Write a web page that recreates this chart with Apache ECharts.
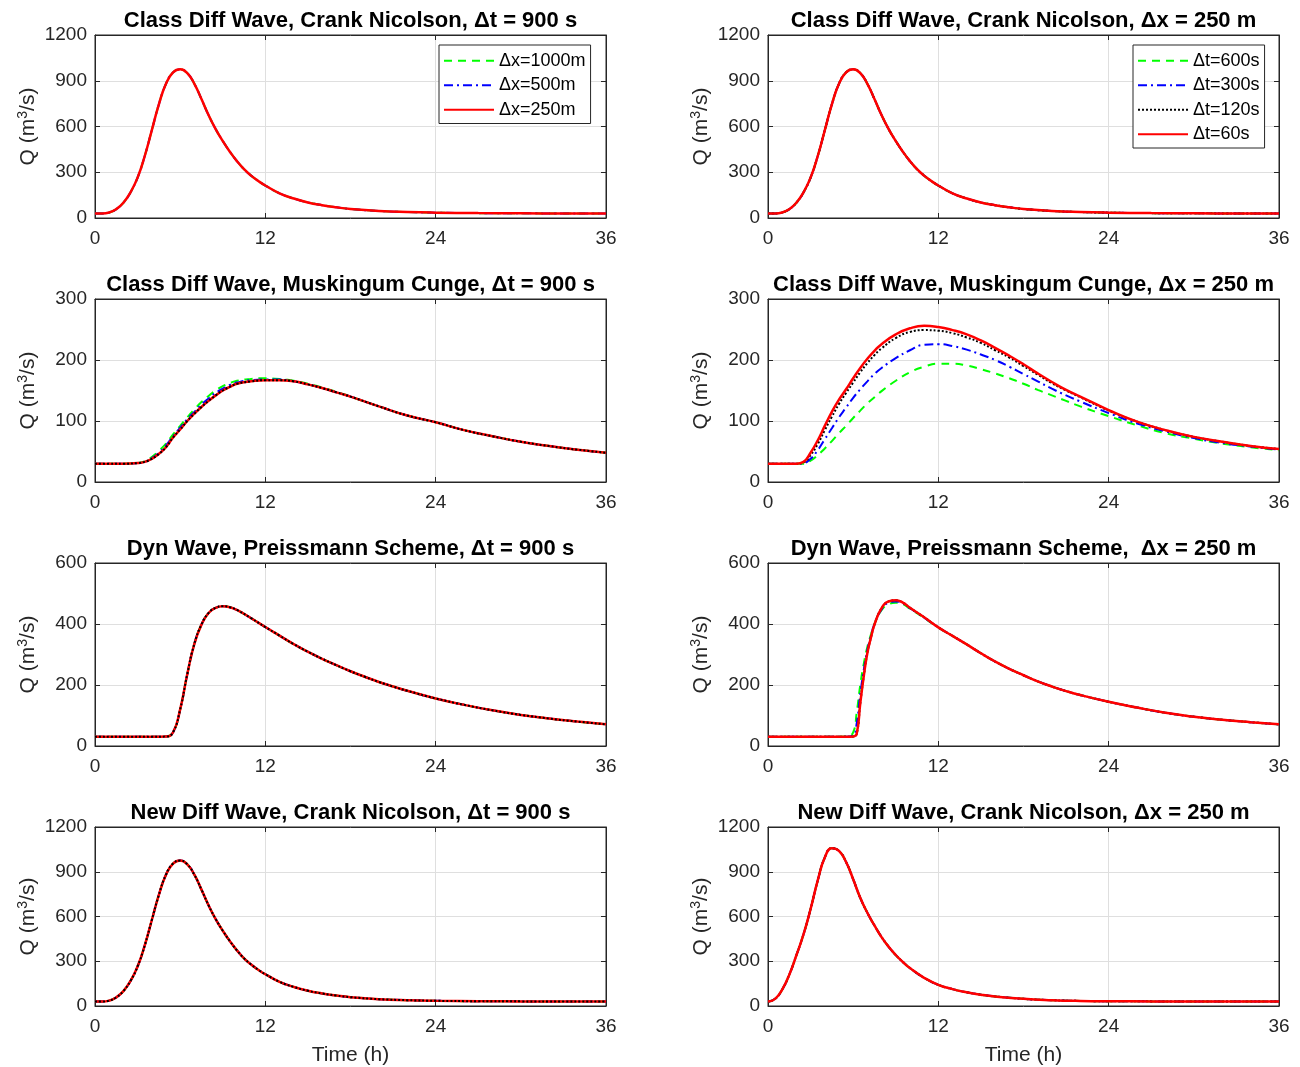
<!DOCTYPE html>
<html><head><meta charset="utf-8">
<script src="https://cdn.jsdelivr.net/npm/echarts@6/dist/echarts.min.js"></script>
<style>html,body{margin:0;padding:0;background:#fff}#c{width:1300px;height:1067px}</style>
</head><body><div id="c"></div><script>
// ---- data (time in hours, Q in m3/s) ----
// Row 1: Class Diff Wave, Crank Nicolson
const tCN = [0,0.5,1,1.5,2,2.5,3,3.5,4,4.5,5,5.5,6,6.5,7,7.5,8,8.5,9,9.5,10,10.5,11,11.5,12,13,14,15,16,17,18,20,22,24,27,30,33,36];
const qCN = [30,30,36,58,100,168,265,405,575,745,880,955,975,950,880,780,675,583,505,435,373,320,278,243,213,162,128,102,84,70,59,46,39,35,32,31,30,30];

// Row 2 left: Class Diff Wave, Muskingum Cunge, dt = 900 s
const tMC = [0,1,2,3,3.5,4,4.5,5,5.5,6,6.5,7,7.5,8,8.5,9,9.5,10,11,12,13,14,15,16,17,18,20,22,24,26,28,30,32,34,36];
const qMC_dx1000 = [30,30,30,31,34,41,51,63,78,92,106,119,131,141,150,157,162,166,169,170,169,166,161,155,148,140,124,109,98,85,75,66,59,53,48];
const qMC_dx500  = [30,30,30,31,33,39,48,60,75,89,103,115,127,137,146,153,159,163,167,168,168,165,160,154,147,140,124,109,98,85,75,66,59,53,48];
const qMC_dx250  = [30,30,30,31,33,38,46,57,73,86,100,112,123,133,142,150,156,161,165,167,167,165,160,154,147,140,124,109,98,85,75,66,59,53,48];

// Row 2 right: Class Diff Wave, Muskingum Cunge, dx = 250 m
const tMC2 = [0,1,2,2.5,3,3.5,4,4.5,5,5.5,6,6.5,7,7.5,8,9,10,11,12,13,14,15,16,17,18,19,20,21,22,24,26,28,30,32,34,36];
const qMC_dt600 = [30,30,30,30,35,44,55,67,80,92,105,117,129,139,149,166,180,189,194,194,191,185,178,170,161,151,142,133,124,108,93,80,71,63,57,52];
const qMC_dt300 = [30,30,30,31,38,52,70,88,106,122,138,152,165,177,187,203,216,225,226,223,217,209,200,189,177,165,153,142,132,113,96,83,72,64,58,53];
const qMC_dt120 = [30,30,30,32,44,62,85,107,128,146,163,180,195,208,219,236,246,249,248,244,237,228,216,204,190,176,162,150,139,117,99,85,74,66,59,54];
const qMC_dt60  = [30,30,30,33,48,68,92,115,135,152,170,187,202,215,226,242,252,256,254,249,242,232,220,207,193,178,164,151,140,118,99,85,74,66,59,54];

// Row 3 left: Dyn Wave, Preissmann, dt = 900 s
const tDW = [0,2,4,5,5.5,6,6.5,7,7.5,8,8.5,9,9.5,10,11,12,13,14,15,16,17,18,19,20,21,22,24,26,28,30,32,34,36];
const qDW = [30,30,30,31,45,120,235,335,398,436,453,458,455,446,419,390,362,334,309,286,265,245,227,210,195,181,156,135,117,102,90,80,71];

// Row 3 right: Dyn Wave, Preissmann, dx = 250 m
const tDW2 = [0,2,4,5.5,6,6.25,6.5,6.75,7,7.25,7.5,8,8.5,9,9.5,10,11,12,13,14,15,16,17,18,19,20,21,22,24,26,28,30,32,34,36];
const qDW_dt600 = [30,30,30,31,45,110,200,270,325,365,400,445,465,470,465,450,420,388,361,333,304,277,253,232,212,195,180,167,145,126,109,96,86,78,71];
const qDW_dt300 = [30,30,30,30,35,75,170,250,315,360,400,448,470,474,468,452,421,389,361,333,304,277,253,232,212,195,180,167,145,126,109,96,86,78,71];
const qDW_dt60  = [30,30,30,30,31,40,140,230,305,355,398,452,474,478,470,453,422,389,361,333,304,277,253,232,212,195,180,167,145,126,109,96,86,78,71];

// Row 4 left: New Diff Wave, Crank Nicolson, dt = 900 s
const qNew = [30,30,36,58,100,168,265,405,575,745,880,955,975,950,880,780,675,583,505,435,373,320,278,243,213,162,128,102,84,70,59,46,39,35,32,31,30,30];

// Row 4 right: New Diff Wave, Crank Nicolson, dx = 250 m
const tNew2 = [0,0.5,1,1.5,2,2.5,3,3.5,4,4.5,5,5.5,6,6.5,7,7.5,8,8.5,9,9.5,10,11,12,13,14,15,16,18,20,22,24,27,30,33,36];
const qNew2 = [30,48,110,210,340,480,650,840,995,1058,1040,965,850,725,625,540,462,397,342,295,254,189,142,113,92,76,64,48,39,34,32,31,30,30,30];

const titles = [
  ['Class Diff Wave, Crank Nicolson, \u0394t = 900 s', 'Class Diff Wave, Crank Nicolson, \u0394x = 250 m'],
  ['Class Diff Wave, Muskingum Cunge, \u0394t = 900 s', 'Class Diff Wave, Muskingum Cunge, \u0394x = 250 m'],
  ['Dyn Wave, Preissmann Scheme, \u0394t = 900 s', 'Dyn Wave, Preissmann Scheme,  \u0394x = 250 m'],
  ['New Diff Wave, Crank Nicolson, \u0394t = 900 s', 'New Diff Wave, Crank Nicolson, \u0394x = 250 m']
];
const legLeft = ['\u0394x=1000m', '\u0394x=500m', '\u0394x=250m'];
const legRight = ['\u0394t=600s', '\u0394t=300s', '\u0394t=120s', '\u0394t=60s'];

// ---- styles ----
const ST = {
  g: {color:'#00ff00', type:[8,6], width:2},
  b: {color:'#0000ff', type:[9,4,2,4], width:2},
  k: {color:'#000000', type:[2,2], width:2},
  r: {color:'#ff0000', type:'solid', width:2.5}
};
const FONT = '"Liberation Sans", Arial, Helvetica, sans-serif';
const AX = '#262626';
const colX = [95, 768], W = 511;
const rowY = [35, 299, 563, 827], H = 183;
const yMax = [1200, 300, 600, 1200], yInt = [300, 100, 200, 300];

const zip = (t, q) => t.map((v, i) => [v, q[i]]);

const panels = [
  [0,0,[[legLeft[0],tCN,qCN,'g'],[legLeft[1],tCN,qCN,'b'],[legLeft[2],tCN,qCN,'r']]],
  [0,1,[[legRight[0],tCN,qCN,'g'],[legRight[1],tCN,qCN,'b'],[legRight[2],tCN,qCN,'k'],[legRight[3],tCN,qCN,'r']]],
  [1,0,[[legLeft[0],tMC,qMC_dx1000,'g'],[legLeft[1],tMC,qMC_dx500,'b'],[legLeft[2],tMC,qMC_dx250,'r'],['dotted',tMC,qMC_dx250,'k']]],
  [1,1,[[legRight[0],tMC2,qMC_dt600,'g'],[legRight[1],tMC2,qMC_dt300,'b'],[legRight[2],tMC2,qMC_dt120,'k'],[legRight[3],tMC2,qMC_dt60,'r']]],
  [2,0,[[legLeft[0],tDW,qDW,'g'],[legLeft[1],tDW,qDW,'b'],[legLeft[2],tDW,qDW,'r'],['dotted',tDW,qDW,'k']]],
  [2,1,[[legRight[0],tDW2,qDW_dt600,'g'],[legRight[1],tDW2,qDW_dt300,'b'],[legRight[2],tDW2,qDW_dt60,'k'],[legRight[3],tDW2,qDW_dt60,'r']]],
  [3,0,[[legLeft[0],tCN,qNew,'g'],[legLeft[1],tCN,qNew,'b'],[legLeft[2],tCN,qNew,'r'],['dotted',tCN,qNew,'k']]],
  [3,1,[[legRight[0],tNew2,qNew2,'g'],[legRight[1],tNew2,qNew2,'b'],[legRight[2],tNew2,qNew2,'k'],[legRight[3],tNew2,qNew2,'r']]]
];

const grid = [], xAxis = [], yAxis = [], series = [], graphic = [];
panels.forEach((p, i) => {
  const [row, col, ss] = p;
  grid.push({left: colX[col], top: rowY[row], width: W, height: H, show: true, borderColor: AX, borderWidth: 1, backgroundColor: '#fff'});
  const tick = {show: true, inside: true, length: 5, lineStyle: {color: AX, width: 1}};
  const line = {show: true, onZero: false, lineStyle: {color: AX, width: 1}};
  xAxis.push({type:'value', gridIndex:i, min:0, max:36, interval:12, position:'bottom',
    axisLine: line, axisTick: tick,
    axisLabel: {color: AX, fontSize: 19, fontFamily: FONT, margin: 11},
    splitLine: {show: true, lineStyle: {color: '#dfdfdf', width: 1}},
    name: row === 3 ? 'Time (h)' : '', nameLocation: 'middle', nameGap: 39,
    nameTextStyle: {color: AX, fontSize: 21, fontFamily: FONT}});
  xAxis.push({type:'value', gridIndex:i, min:0, max:36, interval:12, position:'top',
    axisLine: line, axisTick: tick, axisLabel: {show:false}, splitLine: {show:false}});
  yAxis.push({type:'value', gridIndex:i, min:0, max:yMax[row], interval:yInt[row], position:'left',
    axisLine: line, axisTick: tick,
    axisLabel: {color: AX, fontSize: 19, fontFamily: FONT, margin: 8, formatter: v => String(v)},
    splitLine: {show: true, lineStyle: {color: '#dfdfdf', width: 1}},
    name: 'Q (m{sup|3}/s)', nameLocation: 'middle', nameGap: 55, nameRotate: 90,
    nameTextStyle: {color: AX, fontSize: 21, fontFamily: FONT, lineHeight: 24,
      rich: {sup: {fontSize: 14, fontFamily: FONT, color: AX, padding: [0, 0, 9, 0]}}}});
  yAxis.push({type:'value', gridIndex:i, min:0, max:yMax[row], interval:yInt[row], position:'right',
    axisLine: line, axisTick: tick, axisLabel: {show:false}, splitLine: {show:false}});
  ss.forEach((s, k) => {
    const st = ST[s[3]];
    series.push({type:'line', name: s[0], xAxisIndex: 2*i, yAxisIndex: 2*i,
      data: zip(s[1], s[2]), symbol: 'none', showSymbol: false,
      smooth: 0.5, z: 2 + k,
      lineStyle: {color: st.color, type: st.type, width: st.width},
      itemStyle: {color: st.color}});
  });
  graphic.push({type:'text', x: colX[col] + W/2, y: rowY[row] - 14, z: 100,
    style: {text: titles[row][col], font: 'bold 22px ' + FONT, fill: '#000',
      align: 'center', verticalAlign: 'middle', textAlign: 'center', textVerticalAlign: 'middle'}});
});

const legendCommon = {orient: 'vertical', backgroundColor: '#fff', borderColor: AX, borderWidth: 1,
  borderRadius: 0, itemWidth: 50, itemHeight: 14, itemGap: 5, selectedMode: false,
  itemStyle: {opacity: 0},
  textStyle: {color: '#000', fontSize: 18, fontFamily: FONT, lineHeight: 19.5},
  padding: [6, 5, 4, 4]};
const legend = [
  Object.assign({}, legendCommon, {left: 439, top: 45, data: legLeft}),
  Object.assign({}, legendCommon, {left: 1133, top: 45, data: legRight})
];

const chart = echarts.init(document.getElementById('c'), null, {renderer: 'canvas'});
chart.setOption({animation: false, backgroundColor: '#fff', grid, xAxis, yAxis, series, legend, graphic});
</script></body></html>
